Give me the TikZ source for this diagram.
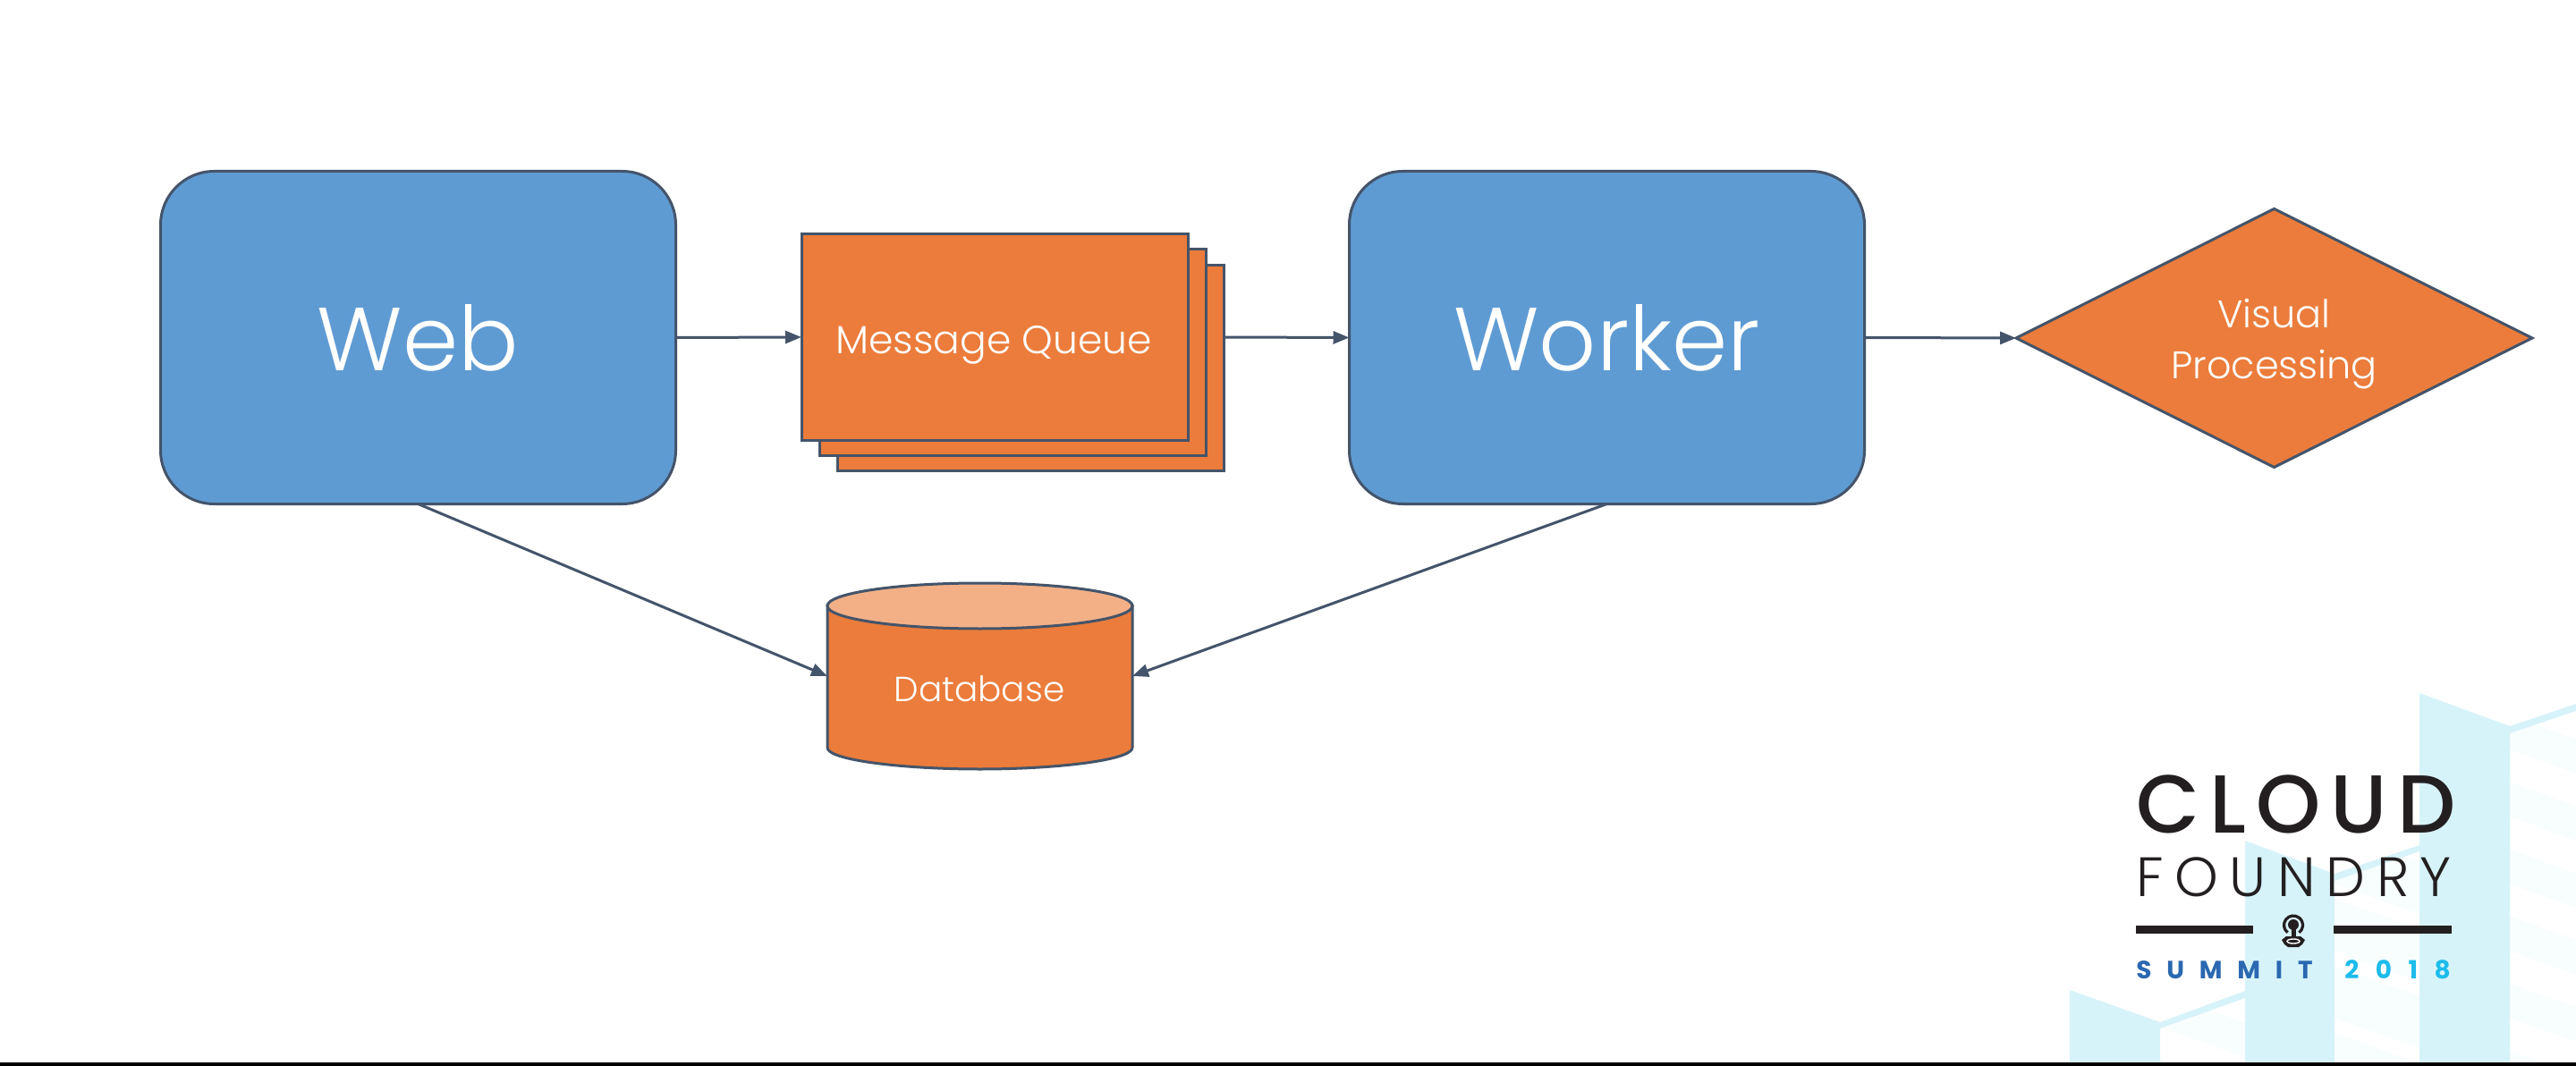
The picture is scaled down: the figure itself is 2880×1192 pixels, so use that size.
\documentclass[tikz,border=0pt]{standalone}
\usepackage{fontspec}
\usetikzlibrary{arrows.meta,shapes.geometric}
\setmainfont{Poppins Light}
\newfontfamily\logobold{Poppins Medium}
\newfontfamily\logolight{Poppins Light}
\newfontfamily\logosemi{Poppins Bold}
\definecolor{edge}{HTML}{44546A}
\definecolor{bluefill}{HTML}{5F9BD3}
\definecolor{orangefill}{HTML}{EB7C3B}
\definecolor{topfill}{HTML}{F3B087}
\definecolor{sky}{HTML}{D7F3FA}
\definecolor{skyfaint}{HTML}{F8FDFE}
\definecolor{logoink}{HTML}{231F20}
\definecolor{summitblue}{HTML}{2B68B1}
\definecolor{yearblue}{HTML}{1CBCEB}
\tikzset{
  conn/.style={draw=edge,line width=1.5pt,-{Triangle[length=9pt,width=7pt]}},
  bigbox/.style={rectangle,rounded corners=30pt,draw=edge,line width=1.5pt,fill=bluefill,
    minimum width=288pt,minimum height=186pt,inner sep=0pt,outer sep=0pt,text=white,font=\fontsize{50}{54}\selectfont},
  qbox/.style={rectangle,draw=edge,line width=1.5pt,fill=orangefill,
    minimum width=216pt,minimum height=115pt,inner sep=0pt,outer sep=0pt},
  small/.style={text=white,font=\fontsize{21.5}{28}\selectfont,inner sep=0pt},
  stripes/.pic={
    \foreach \k in {0,...,5} {
      \fill[skyfaint] (0,\k*75) -- (100,\k*75+36) -- (100,\k*75+74) -- (0,\k*75+38) -- cycle;
    }
  },
}
\begin{document}
\begin{tikzpicture}[x=0.5pt,y=-0.5pt]
\useasboundingbox (0,0) rectangle (2880,1192);
\fill[white] (0,0) rectangle (2880,1192);
% background buildings
\begin{scope}
\clip (2415,1150) -- (2510,1116) -- (2510,1188) -- (2415,1188) -- cycle;
\pic at (2415,1110) {stripes};
\end{scope}
\begin{scope}
\clip (2610,985) -- (2705,952) -- (2705,1188) -- (2610,1188) -- cycle;
\pic at (2610,950) {stripes};
\pic at (2610,780) {stripes};
\end{scope}
\begin{scope}
\clip (2806,820) -- (2880,795) -- (2880,1188) -- (2806,1188) -- cycle;
\pic at (2806,800) {stripes};
\pic at (2806,1025) {stripes};
\end{scope}
\fill[sky] (2314,1107) -- (2415,1143) -- (2510,1108) -- (2510,1116) -- (2415,1150) -- (2415,1188) -- (2314,1188) -- cycle;
\fill[sky] (2510,940) -- (2610,977) -- (2705,945) -- (2705,952) -- (2610,985) -- (2610,1188) -- (2510,1188) -- cycle;
\fill[sky] (2705,775) -- (2806,812) -- (2880,787) -- (2880,795) -- (2806,820) -- (2806,1188) -- (2705,1188) -- cycle;
\fill[black] (0,1188) rectangle (2880,1192);
% boxes
\node[bigbox] (web) at (467.5,377.5) {Web};
\node[bigbox] (worker) at (1796.5,377.5) {Worker};
\node[qbox] (mqc) at (1152.5,411.5) {};
\node[qbox] (mqb) at (1132,394) {};
\node[qbox] (mqa) at (1112,377) {};
\node[small,font=\fontsize{22}{28}\selectfont] (mqlabel) at (1111,386) {Message Queue};
\node[diamond,draw=edge,line width=1.5pt,fill=orangefill,minimum width=288.5pt,minimum height=144.5pt,inner sep=0pt,outer sep=0pt,aspect=2] (proc) at (2542.5,378) {};
\node[small,align=center,font=\fontsize{21.5}{28.5}\selectfont] (proclabel) at (2542.5,385) {Visual\\Processing};
% database
\node[rectangle,minimum width=170.5pt,minimum height=104pt,inner sep=0pt,outer sep=0pt] (db) at (1095.5,756) {};
\fill[orangefill,draw=edge,line width=1.5pt] (925,677.5) -- (925,836)
  .. controls (925,850) and (1010,860) .. (1095.5,860)
  .. controls (1181,860) and (1266,850) .. (1266,836) -- (1266,677.5) -- cycle;
\fill[topfill,draw=edge,line width=1.5pt] (1095.5,677.5) ellipse [x radius=170.5,y radius=25.5];
\node[small,font=\fontsize{19.5}{24}\selectfont] (dblabel) at (1095,770) {Database};
% connectors
\draw[conn] (web.east) -- (mqa.west);
\draw[conn] (mqc.east |- mqa.east) -- (worker.west);
\draw[conn] (worker.east) -- (proc.west);
\draw[conn] (web.south) -- (db.west);
\draw[conn] (worker.south) -- (db.east);
% logo
\node[anchor=base west,inner sep=0pt,text=logoink,font=\logobold\fontsize{46}{46}\selectfont\addfontfeature{LetterSpace=12}] (cloud) at (2388,931) {CLOUD};
\node[anchor=base west,inner sep=0pt,text=logoink,font=\logolight\fontsize{31}{31}\selectfont\addfontfeature{LetterSpace=20}] (foundry) at (2388,1002) {FOUNDRY};
\fill[logoink] (2388,1035) rectangle (2519,1044);
\fill[logoink] (2609,1035) rectangle (2741,1044);
% logo icon
\draw[logoink,line width=1.6pt] (2564,1034.5) ++(128:10.5) arc [start angle=128,end angle=412,radius=10.5];
\fill[logoink] (2564,1034) circle [radius=6];
\fill[logoink] (2561.5,1036) rectangle (2566.5,1052);
\fill[logoink] (2556,1047) -- (2572,1047) -- (2577,1051) -- (2574,1056) -- (2570,1059) -- (2558,1059) -- (2554,1056) -- (2551,1051) -- cycle;
\draw[white,line width=0.7pt] (2564,1052.5) ellipse [x radius=7,y radius=2.5];
\node[anchor=base west,inner sep=0pt,text=summitblue,font=\logosemi\fontsize{14}{14}\selectfont\addfontfeature{LetterSpace=60}] (summit) at (2388,1094) {SUMMIT};
\node[anchor=base west,inner sep=0pt,text=yearblue,font=\logosemi\fontsize{14}{14}\selectfont\addfontfeature{LetterSpace=66}] (year) at (2621,1094) {2018};
\end{tikzpicture}
\end{document}
